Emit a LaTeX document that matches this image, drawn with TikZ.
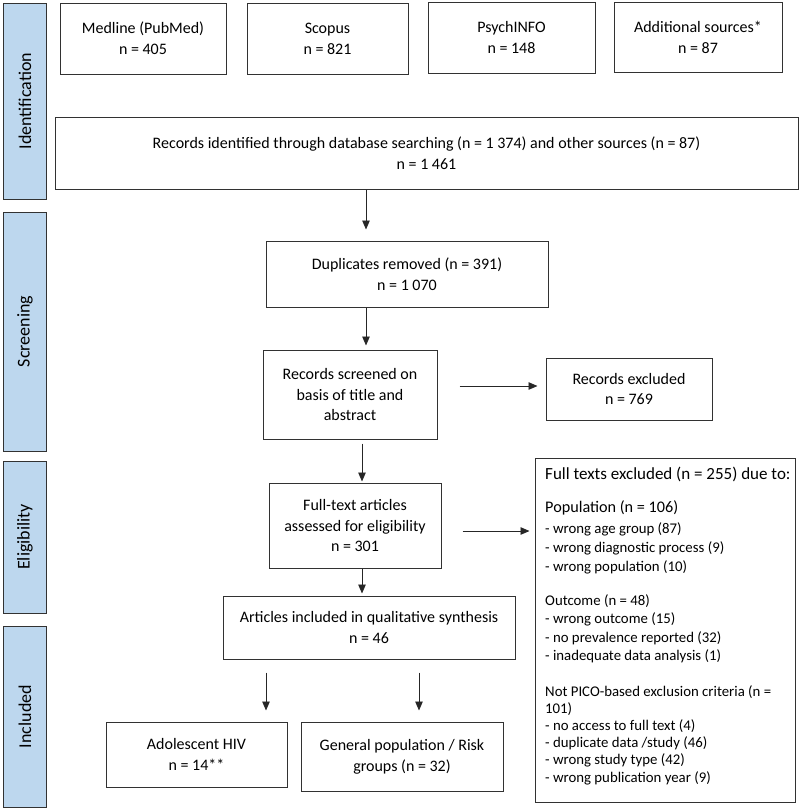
\documentclass[tikz,border=0pt]{standalone}
\usepackage{fontspec}
\setmainfont{Carlito}
\usetikzlibrary{arrows.meta}
\definecolor{barblue}{RGB}{189,215,238}
\definecolor{edge}{RGB}{50,50,50}
\begin{document}
\begin{tikzpicture}[x=1pt,y=-1pt,
  box/.style={draw=edge, line width=1pt, inner sep=0pt, align=center,
    font=\fontsize{16}{20.8}\selectfont},
  bar/.style={draw=edge, fill=barblue, line width=1pt},
  bartext/.style={rotate=90, font=\fontsize{18}{20}\selectfont, inner sep=0pt},
  arr/.style={draw=black!85, line width=0.9pt, -{Triangle[length=9pt,width=7.5pt]}},
  exhead/.style={anchor=base west, inner sep=0pt, font=\fontsize{17}{18}\selectfont},
  exsub/.style={anchor=base west, inner sep=0pt, font=\fontsize{16.2}{18}\selectfont},
  exline/.style={anchor=base west, inner sep=0pt, font=\fontsize{14.8}{18}\selectfont}]
\useasboundingbox (0,0) rectangle (800,809);
% side bars
\draw[bar] (3,3) rectangle (46,199);
\draw[bar] (3,212) rectangle (46,451);
\draw[bar] (3,461) rectangle (46,613);
\draw[bar] (3,626) rectangle (46,807);
\node[bartext] (tid) at (25,101) {Identification};
\node[bartext] (tsc) at (25,331.5) {Screening};
\node[bartext] (tel) at (25,537) {Eligibility};
\node[bartext] (tin) at (25,716.5) {Included};
% boxes
\node[box, minimum width=166, minimum height=71] (medline) at (143,38.5) {Medline (PubMed)\\n = 405};
\node[box, minimum width=161, minimum height=71] (scopus) at (327.5,38.5) {Scopus\\n = 821};
\node[box, minimum width=167, minimum height=71] (psych) at (511.5,37.5) {PsychINFO\\n = 148};
\node[box, minimum width=168, minimum height=70] (addl) at (698,37) {Additional sources*\\n = 87};
\node[box, minimum width=743, minimum height=72] (ident) at (426.5,153) {Records identified through database searching (n = 1 374) and other sources (n = 87)\\n = 1 461};
\node[box, minimum width=282, minimum height=66] (dup) at (407,274) {Duplicates removed (n = 391)\\n = 1 070};
\node[box, minimum width=174, minimum height=89] (screen) at (350,394.5) {Records screened on\\basis of title and\\abstract};
\node[box, minimum width=166, minimum height=62] (recex) at (629,389) {Records excluded\\n = 769};
\node[box, minimum width=172, minimum height=85] (full) at (355,525.5) {Full-text articles\\assessed for eligibility\\n = 301};
\node[box, minimum width=292, minimum height=63] (artic) at (369,627.5) {Articles included in qualitative synthesis\\n = 46};
\node[box, minimum width=260, minimum height=344] (excl) at (665,630) {};
\node[box, minimum width=181, minimum height=65] (adol) at (196.5,754.5) {Adolescent HIV\\n = 14**};
\node[box, minimum width=202, minimum height=69] (gen) at (402,756.5) {General population / Risk\\groups (n = 32)};
% exclusion text
\node[exhead] (e1) at (545,479.5) {Full texts excluded (n = 255) due to:};
\node[exsub] (e2) at (545,512.5) {Population (n = 106)};
\node[exline] (e3) at (545,533) {- wrong age group (87)};
\node[exline] (e4) at (545,552) {- wrong diagnostic process (9)};
\node[exline] (e5) at (545,571) {- wrong population (10)};
\node[exline] (e6) at (545,605) {Outcome (n = 48)};
\node[exline] (e7) at (545,623) {- wrong outcome (15)};
\node[exline] (e8) at (545,642) {- no prevalence reported (32)};
\node[exline] (e9) at (545,660) {- inadequate data analysis (1)};
\node[exline] (e10) at (545,696) {Not PICO-based exclusion criteria (n =};
\node[exline] (e11) at (545,713) {101)};
\node[exline] (e12) at (545,730) {- no access to full text (4)};
\node[exline] (e13) at (545,747) {- duplicate data /study (46)};
\node[exline] (e14) at (545,764) {- wrong study type (42)};
\node[exline] (e15) at (545,782) {- wrong publication year (9)};
% arrow columns / rows
\coordinate (cA) at (366,0);
\coordinate (cB) at (362,0);
\coordinate (cC) at (266,0);
\coordinate (cD) at (419,0);
\coordinate (rA) at (0,386);
\coordinate (rB) at (0,531);
% arrows
\draw[arr, shorten >=11pt] (ident.south -| cA) -- (dup.north -| cA);
\draw[arr, shorten >=4pt] (dup.south -| cA) -- (screen.north -| cA);
\draw[arr, shorten <=4pt, shorten >=1pt] (screen.south -| cB) -- (full.north -| cB);
\draw[arr, shorten >=2pt] (full.south -| cB) -- (artic.north -| cB);
\draw[arr, shorten <=22pt, shorten >=8pt] (screen.east |- rA) -- (recex.west |- rA);
\draw[arr, shorten <=21pt, shorten >=5pt] (full.east |- rB) -- (excl.west |- rB);
\draw[arr, shorten <=13pt, shorten >=11pt] (artic.south -| cC) -- (adol.north -| cC);
\draw[arr, shorten <=13pt, shorten >=11pt] (artic.south -| cD) -- (gen.north -| cD);
\end{tikzpicture}
\end{document}
